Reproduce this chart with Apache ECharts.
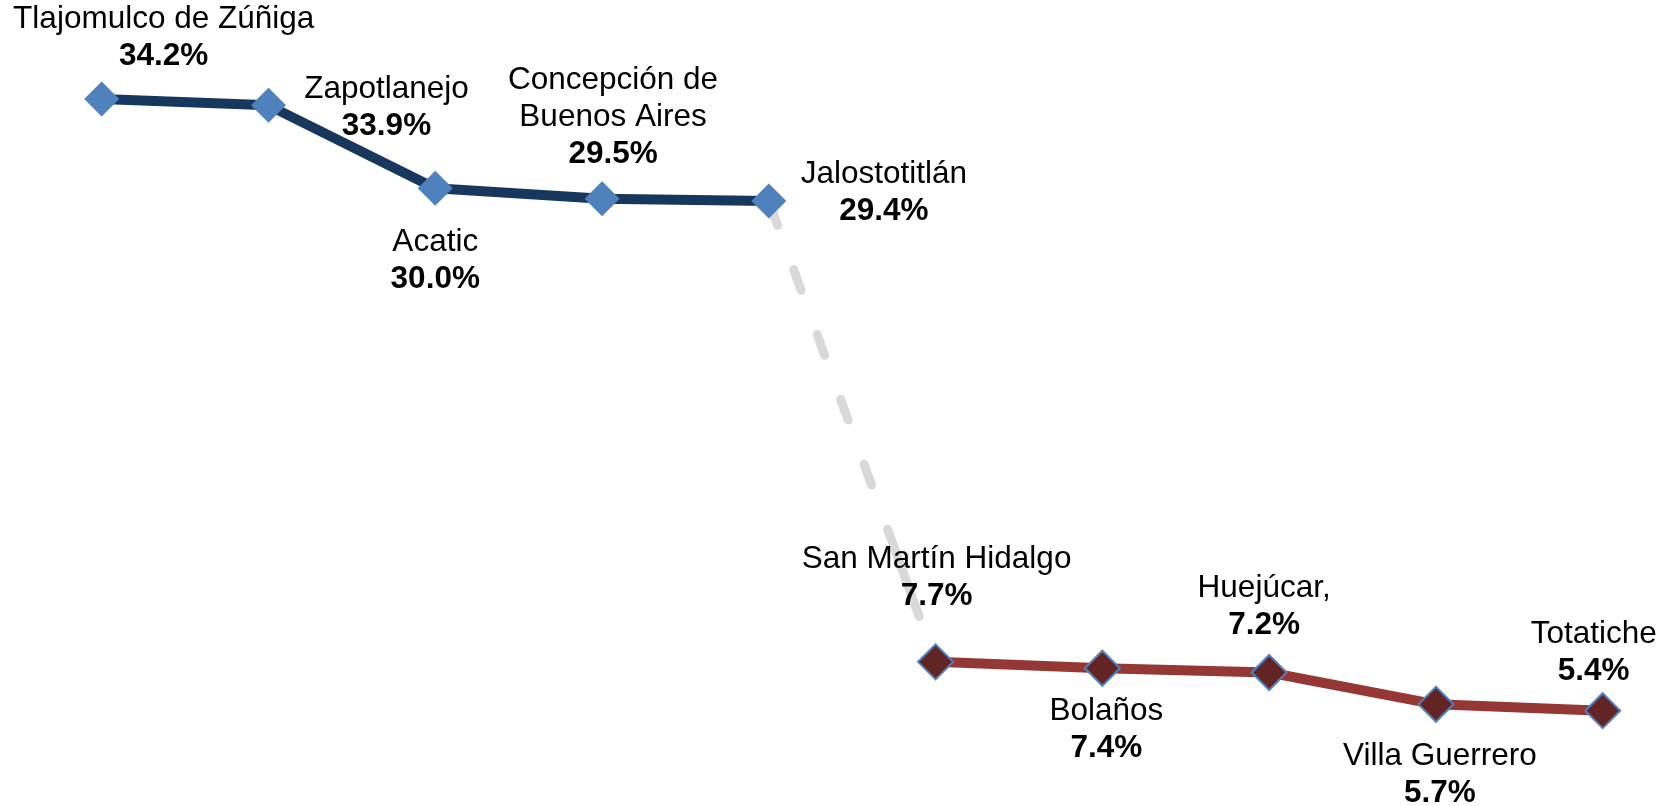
<!DOCTYPE html>
<html>
<head>
<meta charset="utf-8">
<title>Municipios</title>
<script src="https://cdn.jsdelivr.net/npm/echarts@6/dist/echarts.min.js"></script>
<style>
  html, body { margin: 0; padding: 0; background: #fff; }
  #chart { width: 1669px; height: 806px; }
</style>
</head>
<body>
<div id="chart"></div>
<script>
// municipios y porcentajes
const municipios = [
  'Tlajomulco de Zúñiga', 'Zapotlanejo', 'Acatic', 'Concepción de\nBuenos Aires', 'Jalostotitlán',
  'San Martín Hidalgo', 'Bolaños', 'Huejúcar,', 'Villa Guerrero', 'Totatiche'
];
const valores = [34.2, 33.9, 30.0, 29.5, 29.4, 7.7, 7.4, 7.2, 5.7, 5.4];

// los 5 mas altos y los 5 mas bajos
const altos = [34.2, 33.9, 30.0, 29.5, 29.4, '-', '-', '-', '-', '-'];
const bajos = ['-', '-', '-', '-', '-', 7.7, 7.4, 7.2, 5.7, 5.4];
const enlace = ['-', '-', '-', '-', 29.4, 7.7, '-', '-', '-', '-'];

// desplazamiento de cada etiqueta respecto al punto
const labelOffsets = [
  [62, -61], [118, 2], [0, 73], [11, -82], [115, -8],
  [1, -84], [4, 62], [-5, -66], [4, 70], [-9, -58]
];

const chart = echarts.init(document.getElementById('chart'));

function buildData(serie) {
  return serie.map((v, i) => {
    if (v === '-') return '-';
    return {
      value: v,
      label: {
        show: true,
        position: 'inside',
        offset: labelOffsets[i],
        align: 'center',
        verticalAlign: 'middle',
        formatter: () => '{n|' + municipios[i].split('\n').join('}\n{n|') + '}\n{v|' + valores[i].toFixed(1) + '%}',
        rich: {
          n: { fontFamily: 'Liberation Sans', fontSize: 31.5, color: '#000', lineHeight: 37, align: 'center' },
          v: { fontFamily: 'Liberation Sans', fontSize: 31.5, fontWeight: 'bold', color: '#000', lineHeight: 37, align: 'center' }
        }
      }
    };
  });
}

const option = {
  animation: false,
  grid: { left: 101.7, right: 66.3, top: 82, bottom: 86.8 },
  xAxis: {
    type: 'category',
    data: municipios,
    boundaryGap: false,
    show: false
  },
  yAxis: {
    type: 'value',
    min: 5,
    max: 35,
    show: false,
    splitLine: { show: false }
  },
  series: [
    {
      // linea punteada gris entre los dos grupos
      type: 'line',
      data: enlace,
      showSymbol: false,
      symbol: 'none',
      z: 1,
      lineStyle: {
        color: '#D9D9D9',
        width: 9,
        cap: 'round',
        type: [0, 4, 22, 47, 22, 47, 22, 47, 22, 47, 22, 47, 93, 200]
      }
    },
    {
      type: 'line',
      data: buildData(altos),
      z: 2,
      symbol: 'diamond',
      symbolSize: 35,
      lineStyle: { color: '#17375E', width: 10 },
      itemStyle: { color: '#4F81BD', borderWidth: 0 }
    },
    {
      type: 'line',
      data: buildData(bajos),
      z: 2,
      symbol: 'diamond',
      symbolSize: 35,
      lineStyle: { color: '#953735', width: 10 },
      itemStyle: { color: '#632523', borderColor: '#4F81BD', borderWidth: 2 }
    }
  ]
};

chart.setOption(option);
</script>
</body>
</html>
